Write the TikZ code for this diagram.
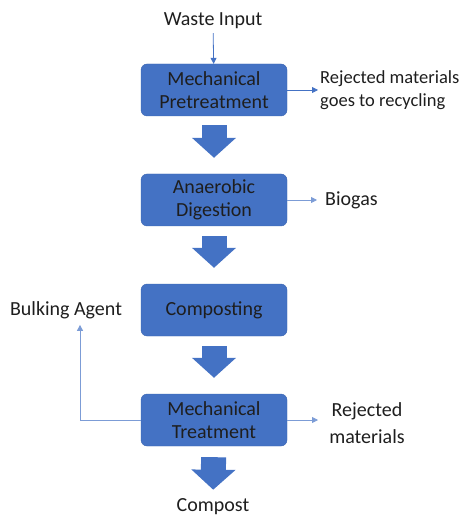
\documentclass[tikz,border=0pt]{standalone}
\usepackage{fontspec}
\setmainfont{Carlito}
\usepackage{tikz}
\usetikzlibrary{arrows.meta}
\definecolor{boxblue}{HTML}{4472C4}
\definecolor{boxedge}{HTML}{3A64B0}
\definecolor{inktext}{HTML}{1E1E1E}
\tikzset{
    process-box/.style = {draw=boxedge, fill=boxblue, thin, rectangle, rounded corners=6pt, minimum width=146pt, minimum height=52pt, align=center, text=inktext, font=\fontsize{20}{23}\selectfont, inner sep=0pt},
    side-label/.style = {text=inktext, font=\fontsize{20}{23}\selectfont, inner sep=2pt},
    thin-arrow/.style = {draw=boxblue, line width=0.8pt, -{Triangle[width=6pt,length=6pt]}},
    fat-arrow/.style = {draw=boxblue, line width=25pt, -{Triangle[width=43pt,length=20pt]}, shorten <=9pt, shorten >=16pt},
}
\begin{document}
\begin{tikzpicture}[x=1pt,y=1pt]
\useasboundingbox (0,0) rectangle (462,-518);
\node [side-label] (waste) at (213,-21) {Waste Input};
\node [process-box] (pretreat) at (214,-90) {Mechanical\\Pretreatment};
\node [process-box] (digest) at (214,-200) {Anaerobic\\Digestion};
\node [process-box] (compost-box) at (214,-310) {Composting};
\node [process-box] (treat) at (214,-420) {Mechanical\\Treatment};
\node [side-label] (compost) at (213,-507) {Compost};
\node [side-label, align=left, anchor=west, font=\fontsize{18.5}{23}\selectfont] (recycle) at (318,-90) {Rejected materials\\goes to recycling};
\node [side-label, anchor=west] (biogas) at (323,-200) {Biogas};
\node [side-label, align=center, font=\fontsize{20}{27}\selectfont] (rejected) at (367,-423) {Rejected\\materials};
\node [side-label] (bulking) at (66,-310) {Bulking Agent};
\draw [thin-arrow, shorten <=2pt] (waste) -- (pretreat);
\draw [thin-arrow] (pretreat.east) -- (recycle.west |- pretreat.east);
\draw [thin-arrow, draw=boxblue!70] (digest.east) -- ([xshift=-6pt]biogas.west |- digest.east);
\draw [thin-arrow, draw=boxblue!70] (treat.east) -- (318,-420);
\draw [thin-arrow, draw=boxblue!70, shorten >=4pt] (treat.west) -| ([xshift=14pt]bulking.south);
\draw [fat-arrow] (pretreat) -- (digest);
\draw [fat-arrow, shorten <=10pt] (digest) -- (compost-box);
\draw [fat-arrow, shorten <=10pt] (compost-box) -- (treat);
\draw [fat-arrow, shorten <=11pt, shorten >=7pt] (treat) -- (compost);
\end{tikzpicture}
\end{document}
